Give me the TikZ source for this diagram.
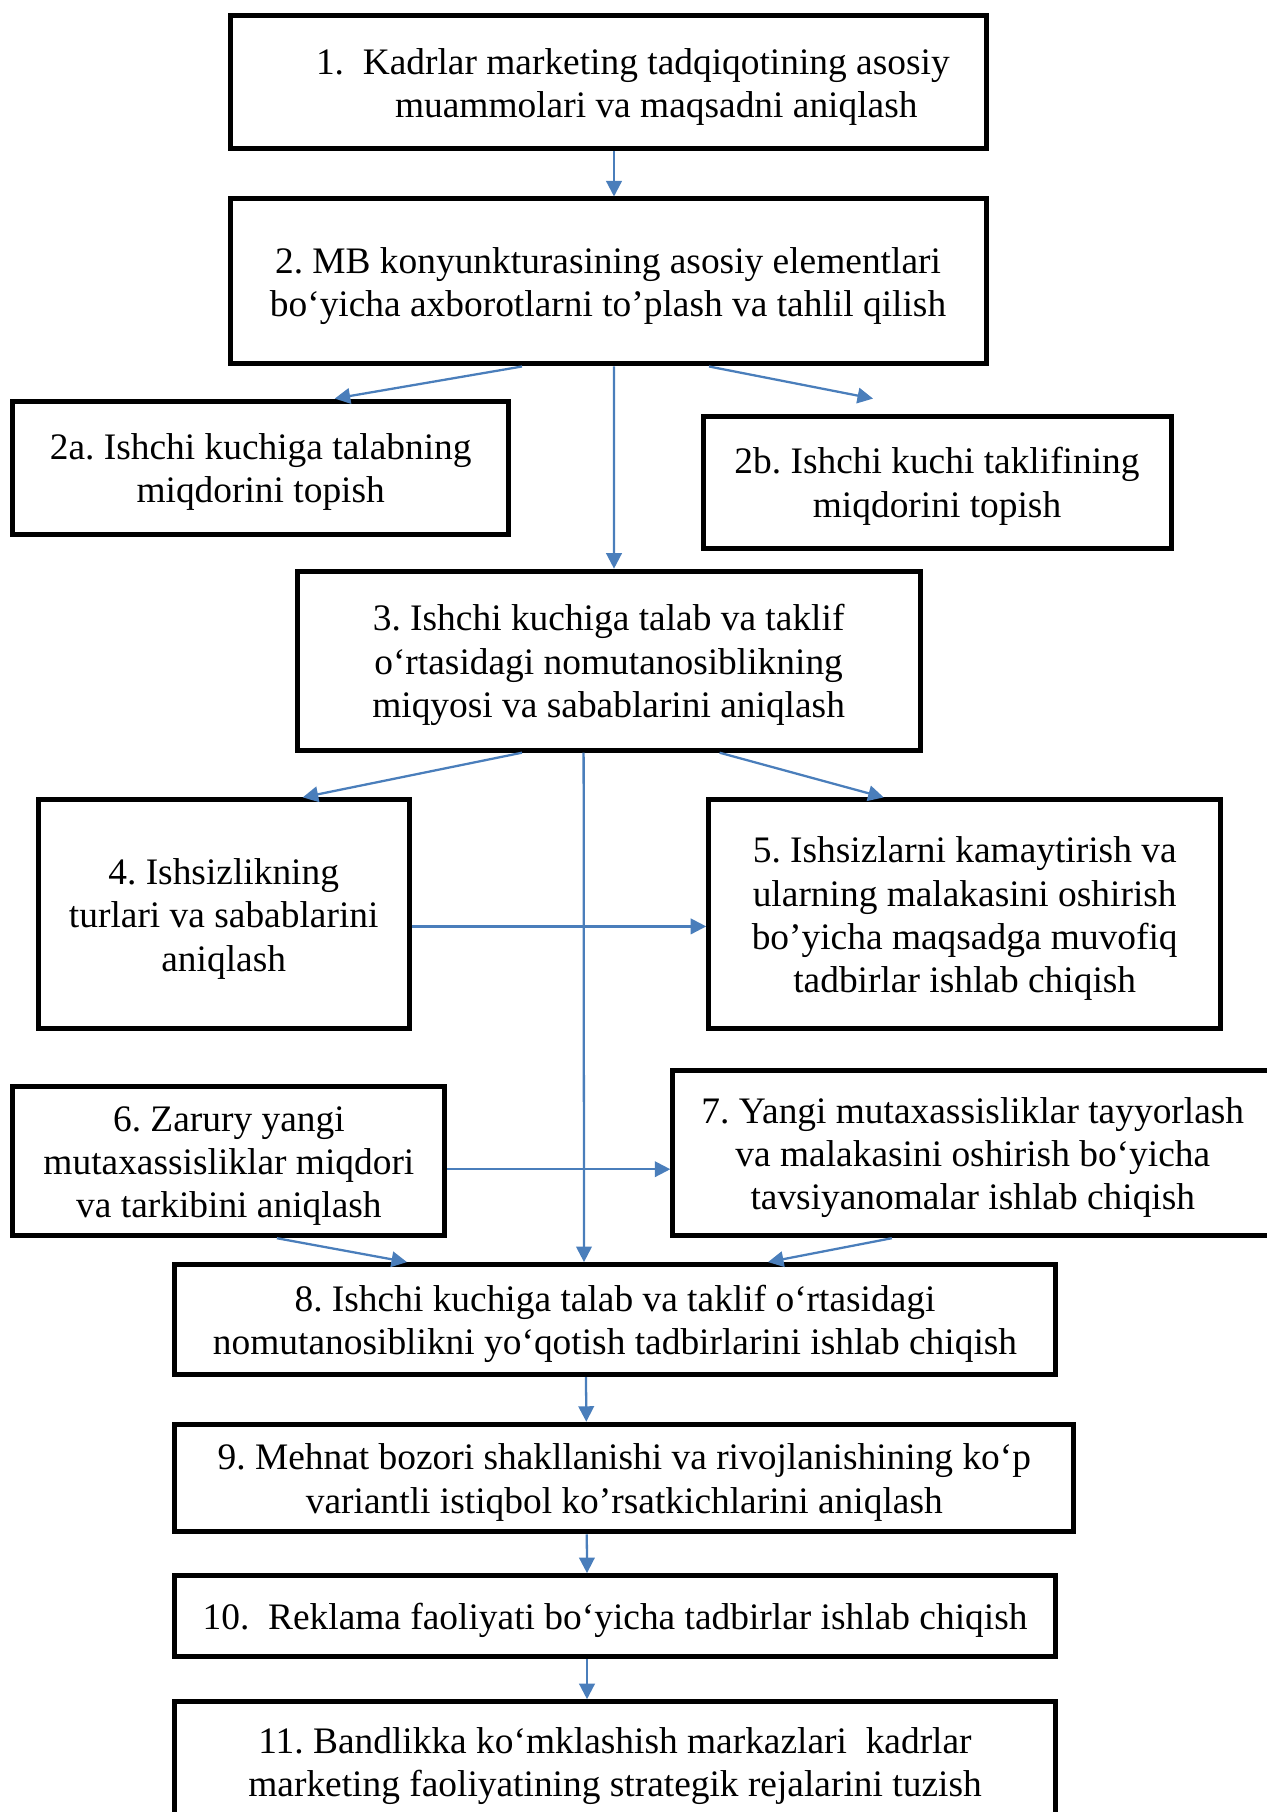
\documentclass[tikz,border=0pt]{standalone}
\usepackage{fontspec}
\setmainfont{Liberation Serif}
\usetikzlibrary{arrows.meta}
\newlength\px
\setlength\px{0.3743pt}
\definecolor{arrowblue}{HTML}{4A7EBB}
\newcommand\hstrut{\rule{0pt}{13pt}}
\frenchspacing

\begin{document}
\begin{tikzpicture}[x=0.3743pt, y=-0.3743pt,
    stagebox/.style={draw, line width=1.87pt, align=center, inner sep=0pt, font=\fontsize{14}{16.2}\selectfont},
    flow/.style={arrowblue, line width=0.85pt, -{Triangle[length=5.8pt, width=5.8pt]}}
]
\useasboundingbox (0,0) rectangle (1267,1812);
\node[stagebox, minimum width=756\px, minimum height=133\px, text width=756\px, align=flush left](b1) at (608,82.5){\hstrut\hspace*{86\px}1.\hspace{0.5em}Kadrlar marketing tadqiqotining asosiy\\\hspace*{165\px}muammolari va maqsadni aniqlash};
\node[stagebox, minimum width=756\px, minimum height=165\px](b2) at (608,281.5){\hstrut 2. MB konyunkturasining asosiy elementlari\\bo‘yicha axborotlarni to’plash va tahlil qilish};
\node[stagebox, minimum width=496\px, minimum height=133\px](b2a) at (260.7,467.6){\hstrut 2a. Ishchi kuchiga talabning\\miqdorini topish};
\node[stagebox, minimum width=468\px, minimum height=132\px](b2b) at (937,482.1){\hstrut 2b. Ishchi kuchi taklifining\\miqdorini topish};
\node[stagebox, minimum width=623\px, minimum height=179\px](b3) at (608.6,660.7){\hstrut 3. Ishchi kuchiga talab va taklif\\o‘rtasidagi nomutanosiblikning\\miqyosi va sabablarini aniqlash};
\node[stagebox, minimum width=371\px, minimum height=229\px](b4) at (223.7,914.4){\hstrut 4. Ishsizlikning\\turlari va sabablarini\\aniqlash};
\node[stagebox, minimum width=512\px, minimum height=229\px](b5) at (964.7,914.4){\hstrut 5. Ishsizlarni kamaytirish va\\ularning malakasini oshirish\\bo’yicha maqsadga muvofiq\\tadbirlar ishlab chiqish};
\node[stagebox, minimum width=432\px, minimum height=149\px](b6) at (228.9,1161.2){\hstrut 6. Zarury yangi\\mutaxassisliklar miqdori\\va tarkibini aniqlash};
\node[stagebox, minimum width=600\px, minimum height=165\px](b7) at (972.8,1153.2){\hstrut 7. Yangi mutaxassisliklar tayyorlash\\va malakasini oshirish bo‘yicha\\tavsiyanomalar ishlab chiqish};
\node[stagebox, minimum width=881\px, minimum height=110\px](b8) at (615,1319.6){\hstrut 8. Ishchi kuchiga talab va taklif o‘rtasidagi\\nomutanosiblikni yo‘qotish tadbirlarini ishlab chiqish};
\node[stagebox, minimum width=899\px, minimum height=107.5\px](b9) at (624.3,1478){\hstrut 9. Mehnat bozori shakllanishi va rivojlanishining ko‘p\\variantli istiqbol ko’rsatkichlarini aniqlash};
\node[stagebox, minimum width=881\px, minimum height=81\px](b10) at (615,1616.1){\hstrut 10.\ \ Reklama faoliyati bo‘yicha tadbirlar ishlab chiqish};
\node[stagebox, minimum width=881\px, minimum height=120\px](b11) at (615,1761.7){\hstrut 11. Bandlikka ko‘mklashish markazlari\ \ kadrlar\\marketing faoliyatining strategik rejalarini tuzish};
\draw[flow] ([xshift=6\px]b1.south) -- ([xshift=6\px]b2.north);
\draw[flow] ([xshift=-86\px]b2.south) -- ([xshift=74\px]b2a.north);
\draw[flow] ([xshift=101\px]b2.south) -- ([xshift=-64\px, yshift=15\px]b2b.north);
\draw[flow] ([xshift=6\px]b2.south) -- ([xshift=5.4\px]b3.north);
\draw[flow] ([xshift=-86.6\px]b3.south) -- ([xshift=79\px]b4.north);
\draw[flow] ([xshift=111\px]b3.south) -- ([xshift=-81\px]b5.north);
\draw[flow] ([xshift=-25\px]b3.south) -- ([xshift=-31\px]b8.north);
\draw[flow] ([yshift=-12\px]b4.east) -- ([yshift=-12\px]b5.west);
\draw[flow] ([yshift=-8\px]b6.east) -- ([yshift=-8\px]b6.east -| b7.west);
\draw[flow] ([xshift=48\px]b6.south) -- ([xshift=-208\px]b8.north);
\draw[flow] ([xshift=-81\px]b7.south) -- ([xshift=153\px]b8.north);
\draw[flow] ([xshift=-29\px]b8.south) -- ([xshift=-38\px]b9.north);
\draw[flow] ([xshift=-37.5\px]b9.south) -- ([xshift=-28\px]b10.north);
\draw[flow] ([xshift=-28\px]b10.south) -- ([xshift=-28\px]b11.north);
\end{tikzpicture}
\end{document}
